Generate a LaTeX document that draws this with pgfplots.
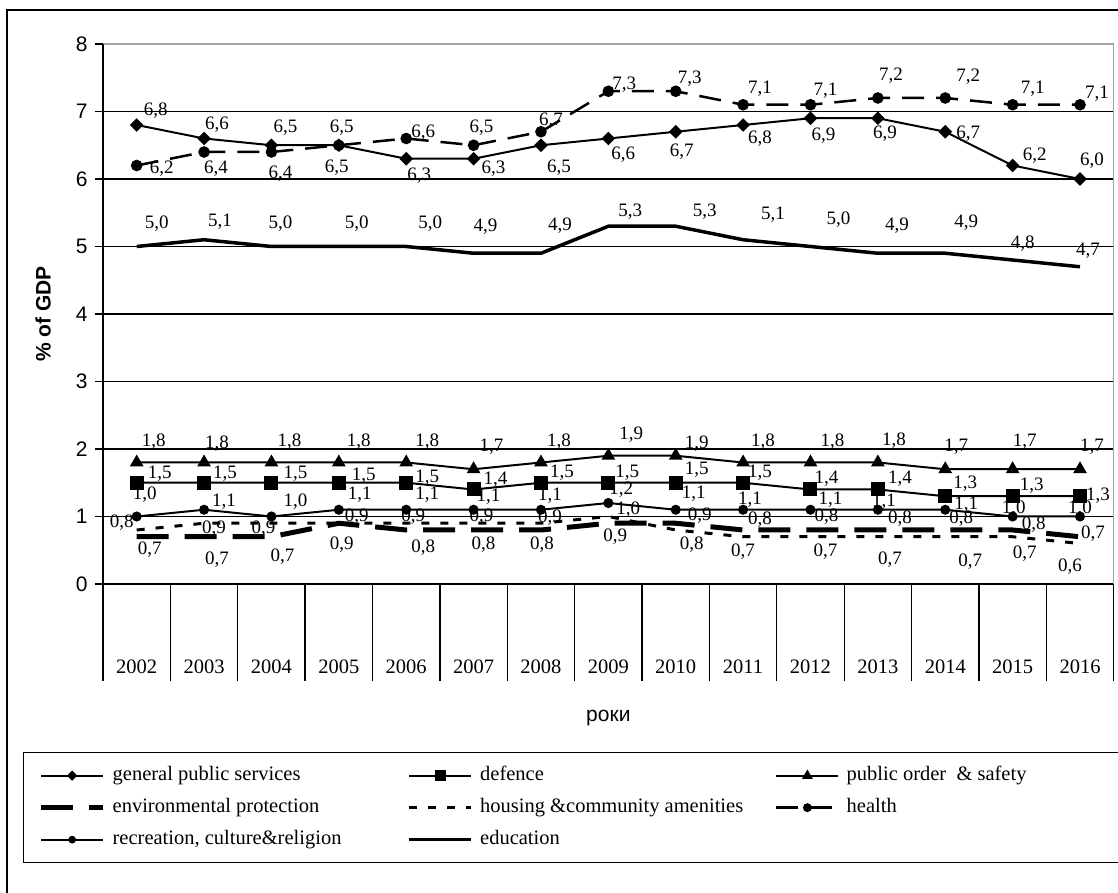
\documentclass[border=0pt]{standalone}
\usepackage{fontspec}
\setmainfont{Liberation Serif}
\newfontfamily\arial{Liberation Sans}
\usepackage{pgfplots}
\usepackage{pgfplotstable}
\pgfplotsset{compat=1.18}

% x = year index (0 = 2002), y = value, dx/dy = label offset (pt)
\pgfplotstableread{
x y dx dy
0 6.8 19 14
1 6.6 13 14
2 6.5 14 18
3 6.5 3 18
4 6.3 13 -17
5 6.3 20 -10
6 6.5 18 -22
7 6.6 15 -16
8 6.7 6 -20
9 6.8 17 -14
10 6.9 13 -17
11 6.9 7 -15
12 6.7 23 -2
13 6.2 22 10
14 6.0 12 18
}\gps
\pgfplotstableread{
x y dx dy
0 1.5 23 9
1 1.5 21 9
2 1.5 24 9
3 1.5 25 7
4 1.5 21 5
5 1.4 22 10
6 1.5 21 10
7 1.5 19 10
8 1.5 21 13
9 1.5 17 10
10 1.4 16 11
11 1.4 22 11
12 1.3 20 13
13 1.3 19 11
14 1.3 18 1
}\defence
\pgfplotstableread{
x y dx dy
0 1.8 17 21
1 1.8 13 19
2 1.8 18 21
3 1.8 20 21
4 1.8 21 21
5 1.7 18 23
6 1.8 18 21
7 1.9 23 21
8 1.9 21 12
9 1.8 20 21
10 1.8 22 21
11 1.8 16 22
12 1.7 11 23
13 1.7 12 28
14 1.7 12 23
}\order
\pgfplotstableread{
x y dx dy
0 0.7 13 -13
1 0.7 13 -23
2 0.7 11 -20
3 0.9 3 -21
4 0.8 17 -18
5 0.8 10 -15
6 0.8 1 -15
7 0.9 7 -13
8 0.9 24 8
9 0.8 17 10
10 0.8 16 13
11 0.8 22 11
12 0.8 16 11
13 0.8 21 5
14 0.7 13 3
}\environ
\pgfplotstableread{
x y dx dy
0 0.8 -15 7
1 0.9 10 -5
2 0.9 -8 -5
3 0.9 18 7
4 0.9 7 7
5 0.9 8 7
6 0.9 9 6
7 1.0 20 7
8 0.8 16 -15
9 0.7 0 -15
10 0.7 15 -15
11 0.7 12 -23
12 0.7 25 -25
13 0.7 12 -17
14 0.6 -10 -23
}\housing
\pgfplotstableread{
x y dx dy
0 6.2 25 -3
1 6.4 12 -17
2 6.4 9 -22
3 6.5 -2 -22
4 6.6 17 6
5 6.5 8 18
6 6.7 10 11
7 7.3 16 7
8 7.3 14 13
9 7.1 17 16
10 7.1 15 14
11 7.2 13 22
12 7.2 23 21
13 7.1 20 16
14 7.1 17 11
}\health
\pgfplotstableread{
x y dx dy
0 1.0 8 22
1 1.1 20 8
2 1.0 24 15
3 1.1 21 15
4 1.1 21 15
5 1.1 15 13
6 1.1 9 14
7 1.2 13 13
8 1.1 18 16
9 1.1 7 10
10 1.1 20 10
11 1.1 6 8
12 1.1 21 5
13 1.0 1 8
14 1.0 0 8
}\recreation
\pgfplotstableread{
x y dx dy
0 5.0 20 23
1 5.1 16 18
2 5.0 9 23
3 5.0 18 23
4 5.0 24 23
5 4.9 12 27
6 4.9 19 28
7 5.3 22 15
8 5.3 29 15
9 5.1 30 25
10 5.0 28 27
11 4.9 19 28
12 4.9 21 31
13 4.8 10 16
14 4.7 8 16
}\education

\pgfplotsset{
  lbl/.style={
    point meta=\thisrow{y},
    visualization depends on={\thisrow{dx}\as\lx},
    visualization depends on={\thisrow{dy}\as\ly},
    nodes near coords={\pgfmathprintnumber[fixed,fixed zerofill,precision=1,use comma]{\pgfplotspointmeta}},
    every node near coord/.append style={anchor=center, xshift=\lx pt, yshift=\ly pt,
      inner sep=0pt, font=\fontsize{19}{22}\selectfont, text=black},
  },
}

\newcommand{\lgA}[1]{\makebox[302pt][l]{\hspace{7pt}#1}}
\newcommand{\lgC}[1]{\makebox[266pt][l]{\hspace{7pt}#1}}

\begin{document}
\begin{tikzpicture}[x=1pt,y=1pt]
\draw[line width=1.3pt] (7pt,-5pt) -- (7pt,883pt) -- (1125pt,883pt);
\begin{axis}[
  at={(103pt,309pt)}, anchor=south west,
  scale only axis, width=1010.7pt, height=540pt,
  xmin=-0.5, xmax=14.5, ymin=0, ymax=8,
  clip=false,
  axis line style={draw=none},
  xtick pos=bottom, ytick pos=left,
  ytick={0,...,7}, extra y ticks={8}, extra y tick style={ymajorgrids=false},
  ymajorgrids, grid style={black, line width=1.3pt},
  tick align=outside, major tick length=8pt,
  ytick style={black, line width=1.3pt},
  yticklabel style={font=\arial\fontsize{21}{24}\selectfont, xshift=-4pt},
  /pgf/number format/assume math mode=true,
  xtick={0,...,14},
  xticklabels={2002,2003,2004,2005,2006,2007,2008,2009,2010,2011,2012,2013,2014,2015,2016},
  xtick style={draw=none},
  xticklabel style={font=\fontsize{20.5}{24}\selectfont, anchor=base, yshift=-82pt},
  extra x ticks={-0.5,0.5,...,14.5},
  extra x tick labels={},
  extra x tick style={xtick style={draw=black, line width=1.3pt}, major tick length=97pt},
  ylabel={\% of GDP},
  every axis y label/.style={at={(axis description cs:0,0.5)}, xshift=-60pt, rotate=90, anchor=center,
     font=\arial\bfseries\fontsize{21}{24}\selectfont},
  xlabel={роки},
  every axis x label/.style={at={(axis description cs:0.5,0)}, yshift=-134pt, anchor=center,
     font=\arial\fontsize{21}{24}\selectfont},
  legend columns=3,
  legend cell align=left,
  legend image code/.code={\draw[mark repeat=2,mark phase=2,#1] plot coordinates {(0pt,0pt) (31pt,0pt) (62pt,0pt)};},
  legend image post style={every mark/.append style={scale=0.7}},
  legend style={at={(axis description cs:0,0)}, anchor=north west, xshift=-80pt, yshift=-168pt,
     draw=black, line width=1.3pt, fill=white, inner xsep=15pt, inner ysep=13pt,
     row sep=12pt, column sep=0pt,
     nodes={inner sep=0pt, text height=15pt, text depth=5pt},
     font=\fontsize{20.5}{24}\selectfont},
]
\draw[gray!70, line width=1.3pt] (axis cs:-0.5,8) -- (axis cs:14.5,8) -- (axis cs:14.5,0);
\draw[black, line width=1.5pt] (axis cs:-0.5,0) -- (axis cs:-0.5,8);

\addplot[black, line width=2pt, mark=square*, mark size=3.8pt, mark options={rotate=45, solid}, lbl]
  table[x=x,y=y] {\gps};
\addlegendentry{\lgA{general public services}}
\addplot[black, line width=2pt, mark=square*, mark size=6pt, mark options={solid}, lbl]
  table[x=x,y=y] {\defence};
\addlegendentry{\lgA{defence}}
\addplot[black, line width=2pt, mark=triangle*, mark size=6pt, mark options={solid}, lbl]
  table[x=x,y=y] {\order};
\addlegendentry{\lgC{public order \ \& safety}}
\addplot[black, line width=5pt, dash pattern=on 32pt off 16pt, lbl]
  table[x=x,y=y] {\environ};
\addlegendentry{\lgA{environmental protection}}
\addplot[black, line width=3pt, dash pattern=on 8pt off 11pt, lbl]
  table[x=x,y=y] {\housing};
\addlegendentry{\lgA{housing \&community amenities}}
\addplot[black, line width=2.5pt, dash pattern=on 22pt off 12pt, mark=*, mark size=4.5pt, mark options={solid}, lbl]
  table[x=x,y=y] {\health};
\addlegendentry{\lgC{health}}
\addplot[black, line width=2pt, mark=*, mark size=4pt, mark options={solid}, lbl]
  table[x=x,y=y] {\recreation};
\addlegendentry{\lgA{recreation, culture\&religion}}
\addplot[black, line width=3.5pt, lbl]
  table[x=x,y=y] {\education};
\addlegendentry{\lgA{education}}
\end{axis}
\pgfresetboundingbox
\path[use as bounding box] (0pt,0pt) rectangle (1118pt,893pt);
\end{tikzpicture}
\end{document}
